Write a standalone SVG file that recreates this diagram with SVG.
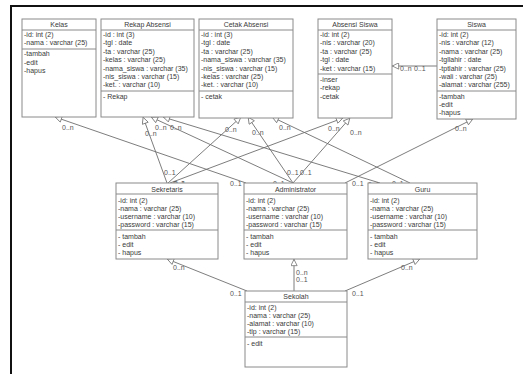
<svg xmlns="http://www.w3.org/2000/svg" width="523" height="374" viewBox="0 0 523 374">
<style>
.box{fill:#fff;stroke:#8a8a8a;stroke-width:1}
.sep{stroke:#8a8a8a;stroke-width:1}
text{font-family:"Liberation Sans",Arial,sans-serif;font-size:7px;fill:#3a3a3a}
.h{text-anchor:middle}
.c{fill:none;stroke:#6e6e6e;stroke-width:0.9}
.lbl{font-size:7px;fill:#555}
</style>
<defs>
<marker id="tri" viewBox="0 0 10 10" refX="10" refY="5" markerWidth="8" markerHeight="7" markerUnits="userSpaceOnUse" orient="auto">
<path d="M0.5,0.5 L9.5,5 L0.5,9.5 z" fill="#fff" stroke="#6e6e6e" stroke-width="1.1"/>
</marker>
</defs>
<rect width="523" height="374" fill="#fff"/>
<path d="M11,374 V6 H523" fill="none" stroke="#111" stroke-width="2"/>

<g id="connectors">
<line class="c" x1="246" y1="183" x2="55" y2="117" marker-end="url(#tri)"/>
<line class="c" x1="167" y1="183" x2="143" y2="117" marker-end="url(#tri)"/>
<line class="c" x1="293" y1="183" x2="151" y2="117" marker-end="url(#tri)"/>
<line class="c" x1="380" y1="183" x2="163" y2="117" marker-end="url(#tri)"/>
<line class="c" x1="168" y1="183" x2="241" y2="117" marker-end="url(#tri)"/>
<line class="c" x1="293" y1="183" x2="248" y2="117" marker-end="url(#tri)"/>
<line class="c" x1="410" y1="183" x2="272" y2="117" marker-end="url(#tri)"/>
<line class="c" x1="170" y1="183" x2="343" y2="118" marker-end="url(#tri)"/>
<line class="c" x1="293" y1="183" x2="350" y2="118" marker-end="url(#tri)"/>
<line class="c" x1="345" y1="183" x2="473" y2="119" marker-end="url(#tri)"/>
<line class="c" x1="437" y1="66" x2="392" y2="66" marker-end="url(#tri)"/>
<line class="c" x1="294" y1="291" x2="294" y2="259" marker-end="url(#tri)"/>
<line class="c" x1="247" y1="291" x2="167" y2="259" marker-end="url(#tri)"/>
<line class="c" x1="345" y1="291" x2="420" y2="259" marker-end="url(#tri)"/>
<text class="lbl" x="62" y="130">0..n</text>
<text class="lbl" x="230" y="185.5">0..1</text>
<text class="lbl" x="145" y="135.5">0..n</text>
<text class="lbl" x="155" y="130">0..n</text>
<text class="lbl" x="170" y="129.5">0..n</text>
<text class="lbl" x="225" y="132">0..n</text>
<text class="lbl" x="252" y="134.5">0..n</text>
<text class="lbl" x="279" y="130">0..n</text>
<text class="lbl" x="328" y="130.5">0..n</text>
<text class="lbl" x="350" y="134.5">0..n</text>
<text class="lbl" x="455" y="130.5">0..n</text>
<text class="lbl" x="400" y="70.5">0..n</text>
<text class="lbl" x="414" y="70.5">0..1</text>
<text class="lbl" x="164" y="174.5">0..1</text>
<text class="lbl" x="173" y="185.5">0..1</text>
<text class="lbl" x="174" y="186">0..1</text>
<text class="lbl" x="287" y="175">0..1</text>
<text class="lbl" x="300" y="175">0..1</text>
<text class="lbl" x="273" y="186">0..1</text>
<text class="lbl" x="352" y="186">0..1</text>
<text class="lbl" x="368" y="187">0..1</text>
<text class="lbl" x="392" y="186">0..1</text>
<text class="lbl" x="173" y="269.5">0..n</text>
<text class="lbl" x="230" y="295.5">0..1</text>
<text class="lbl" x="296" y="274.5">0..n</text>
<text class="lbl" x="296" y="282">0..1</text>
<text class="lbl" x="352" y="295.5">0..1</text>
<text class="lbl" x="401" y="270">0..n</text>
</g>

<g id="kelas">
<rect class="box" x="22" y="19" width="74" height="98"/>
<line class="sep" x1="22" y1="30" x2="96" y2="30"/>
<line class="sep" x1="22" y1="49" x2="96" y2="49"/>
<text class="h" x="59" y="27">Kelas</text>
<text x="24" y="37">-id: int (2)</text>
<text x="24" y="45.4">-nama : varchar (25)</text>
<text x="24" y="56">-tambah</text>
<text x="24" y="64.5">-edit</text>
<text x="24" y="73">-hapus</text>
</g>

<g id="rekap-absensi">
<rect class="box" x="101" y="19" width="93" height="98"/>
<line class="sep" x1="101" y1="30" x2="194" y2="30"/>
<line class="sep" x1="101" y1="91" x2="194" y2="91"/>
<text class="h" x="147.5" y="27">Rekap Absensi</text>
<text x="103" y="37">-id : int (3)</text>
<text x="103" y="45.4">-tgl : date</text>
<text x="103" y="53.8">-ta : varchar (25)</text>
<text x="103" y="62.2">-kelas : varchar (25)</text>
<text x="103" y="70.6">-nama_siswa : varchar (35)</text>
<text x="103" y="79">-nis_siswa : varchar (15)</text>
<text x="103" y="87.4">-ket. : varchar (10)</text>
<text x="103" y="98.5">- Rekap</text>
</g>

<g id="cetak-absensi">
<rect class="box" x="199" y="19" width="94" height="99"/>
<line class="sep" x1="199" y1="30" x2="293" y2="30"/>
<line class="sep" x1="199" y1="91" x2="293" y2="91"/>
<text class="h" x="246" y="27">Cetak Absensi</text>
<text x="201" y="37">-id : int (3)</text>
<text x="201" y="45.4">-tgl : date</text>
<text x="201" y="53.8">-ta : varchar (25)</text>
<text x="201" y="62.2">-nama_siswa : varchar (35)</text>
<text x="201" y="70.6">-nis_siswa : varchar (15)</text>
<text x="201" y="79">-kelas : varchar (25)</text>
<text x="201" y="87.4">-ket. : varchar (10)</text>
<text x="201" y="98.5">- cetak</text>
</g>

<g id="absensi-siswa">
<rect class="box" x="318" y="19" width="74" height="99"/>
<line class="sep" x1="318" y1="30" x2="392" y2="30"/>
<line class="sep" x1="318" y1="74" x2="392" y2="74"/>
<text class="h" x="355" y="27">Absensi Siswa</text>
<text x="320" y="37">-id: int (2)</text>
<text x="320" y="45.4">-nis : varchar (20)</text>
<text x="320" y="53.8">-ta : varchar (25)</text>
<text x="320" y="62.2">-tgl : date</text>
<text x="320" y="70.6">-ket : varchar (15)</text>
<text x="320" y="81.5">-inser</text>
<text x="320" y="90">-rekap</text>
<text x="320" y="98.5">-cetak</text>
</g>

<g id="siswa">
<rect class="box" x="437" y="19" width="79" height="100"/>
<line class="sep" x1="437" y1="30" x2="516" y2="30"/>
<line class="sep" x1="437" y1="91" x2="516" y2="91"/>
<text class="h" x="476.5" y="27">Siswa</text>
<text x="439" y="37">-id: int (2)</text>
<text x="439" y="45.4">-nis : varchar (12)</text>
<text x="439" y="53.8">-nama : varchar (25)</text>
<text x="439" y="62.2">-tgllahir : date</text>
<text x="439" y="70.6">-tptlahir : varchar (25)</text>
<text x="439" y="79">-wali : varchar (25)</text>
<text x="439" y="87.4">-alamat : varchar (255)</text>
<text x="439" y="98.5">-tambah</text>
<text x="439" y="106.7">-edit</text>
<text x="439" y="114.9">-hapus</text>
</g>

<g id="sekretaris">
<rect class="box" x="116" y="183" width="102" height="76"/>
<line class="sep" x1="116" y1="194" x2="218" y2="194"/>
<line class="sep" x1="116" y1="230" x2="218" y2="230"/>
<text class="h" x="167" y="191.5">Sekretaris</text>
<text x="118" y="202.5">-id: int (2)</text>
<text x="118" y="210.7">-nama : varchar (25)</text>
<text x="118" y="218.9">-username : varchar (10)</text>
<text x="118" y="227.1">-password : varchar (15)</text>
<text x="118" y="238.5">- tambah</text>
<text x="118" y="246.7">- edit</text>
<text x="118" y="254.9">- hapus</text>
</g>

<g id="administrator">
<rect class="box" x="244" y="183" width="103" height="76"/>
<line class="sep" x1="244" y1="194" x2="347" y2="194"/>
<line class="sep" x1="244" y1="230" x2="347" y2="230"/>
<text class="h" x="295.5" y="191.5">Administrator</text>
<text x="246" y="202.5">-id: int (2)</text>
<text x="246" y="210.7">-nama : varchar (25)</text>
<text x="246" y="218.9">-username : varchar (10)</text>
<text x="246" y="227.1">-password : varchar (15)</text>
<text x="246" y="238.5">- tambah</text>
<text x="246" y="246.7">- edit</text>
<text x="246" y="254.9">- hapus</text>
</g>

<g id="guru">
<rect class="box" x="368" y="183" width="109" height="76"/>
<line class="sep" x1="368" y1="194" x2="477" y2="194"/>
<line class="sep" x1="368" y1="230" x2="477" y2="230"/>
<text class="h" x="422.5" y="191.5">Guru</text>
<text x="370" y="202.5">-id: int (2)</text>
<text x="370" y="210.7">-nama : varchar (25)</text>
<text x="370" y="218.9">-username : varchar (10)</text>
<text x="370" y="227.1">-password : varchar (15)</text>
<text x="370" y="238.5">- tambah</text>
<text x="370" y="246.7">- edit</text>
<text x="370" y="254.9">- hapus</text>
</g>

<g id="sekolah">
<rect class="box" x="245" y="291" width="102" height="76"/>
<line class="sep" x1="245" y1="302" x2="347" y2="302"/>
<line class="sep" x1="245" y1="337" x2="347" y2="337"/>
<text class="h" x="296" y="299">Sekolah</text>
<text x="247" y="309.5">-id: int (2)</text>
<text x="247" y="317.7">-nama : varchar (25)</text>
<text x="247" y="325.9">-alamat : varchar (10)</text>
<text x="247" y="334.1">-tlp : varchar (15)</text>
<text x="247" y="345.5">- edit</text>
</g>
</svg>
